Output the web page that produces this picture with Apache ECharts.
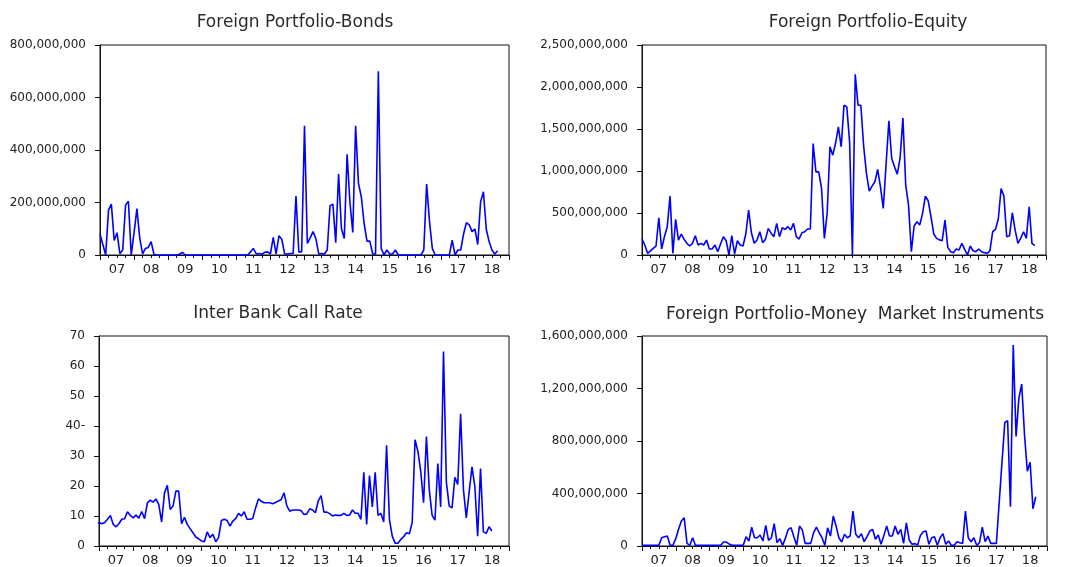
<!DOCTYPE html>
<html><head><meta charset="utf-8">
<script src="https://cdn.jsdelivr.net/npm/echarts@6/dist/echarts.min.js"></script>
<style>html,body{margin:0;padding:0;background:#fff}#c{width:1065px;height:567px}</style>
</head><body><div id="c"></div>
<script>
// ---- data (monthly observations) ----
const xLabels = ['07','08','09','10','11','12','13','14','15','16','17','18'];

// Foreign Portfolio-Bonds, millions, from 2007-01
const bonds = [
 80,40,0,171,194,55,85,5,19,190,
 205,0,85,177,63,4,25,29,51,2,
 0,0,0,0,0,0,0,0,3,10,
 0,0,0,0,0,0,0,0,0,0,
 0,0,0,0,0,0,0,0,0,0,
 0,0,0,12,25,4,6,3,10,12,
 4,67,4,73,60,4,4,6,6,225,
 12,12,492,44,65,89,63,4,6,4,
 19,188,194,47,308,101,63,384,200,86,
 492,273,222,120,53,53,4,4,700,25,
 0,19,4,4,19,0,0,0,0,0,
 0,0,0,0,19,270,130,25,0,0,
 0,0,0,0,57,0,19,19,80,123,
 115,89,99,40,203,241,98,51,19,4,
 16];

// Foreign Portfolio-Equity, millions, from 2007-01
const equity = [
 190,119,20,50,80,107,444,71,218,337,
 701,20,424,178,250,186,139,107,139,230,
 119,139,119,178,71,71,119,40,130,218,
 170,0,230,12,170,119,107,250,535,265,
 139,178,277,147,186,317,260,218,376,218,
 325,305,337,297,376,218,190,265,277,309,
 309,1327,990,990,792,198,495,1288,1189,1330,
 1525,1288,1783,1763,1347,0,2151,1783,1783,1300,
 971,761,820,872,1018,812,555,1080,1597,1149,
 1050,963,1157,1632,832,594,40,345,396,357,
 495,701,646,456,250,198,180,170,416,91,
 40,28,71,59,139,67,0,107,51,40,
 71,40,28,20,48,277,305,428,792,701,
 218,230,503,297,139,200,277,198,574,139,
 111];

// Inter Bank Call Rate, percent, from 2006-11
const callRate = [
 10.2,7.2,7.8,7.4,7.8,8.9,10.2,7.2,6.4,7.4,
 8.9,9.1,11.4,10.2,9.4,10.3,9.3,11.5,9.1,14.4,
 15.3,14.6,15.7,13.8,8,17.7,20.2,12.2,13.3,18.3,
 18.3,7.4,9.6,7.2,5.8,4.4,3,2.4,1.7,1.4,
 4.7,2.8,3.9,1.4,2.8,8.5,8.9,8.5,6.6,8.3,
 9.1,10.9,10,11.4,8.9,8.9,9.2,12.7,15.7,14.9,
 14.4,14.4,14.4,14.1,14.5,15,15.5,17.7,13.3,11.6,
 12,12,12,11.8,10.5,10.7,12.4,12,11.1,15,
 16.8,11.3,11.3,10.8,10,10.3,10.2,10.2,10.9,10.2,
 10.3,12,10.9,10.9,8.9,24.6,7.2,23.5,13,24.6,
 10.2,10.9,8,33.6,8.9,3.3,0.9,0.9,2.2,3.1,
 4.4,4.1,7.8,35.4,31.6,24.9,14.4,36.5,18.8,10.2,
 8.6,27.5,13,64.8,21.3,13.3,12.7,22.9,20.5,44.1,
 18.8,9.4,18,26.4,19.9,3.3,25.8,4.7,4.2,6.4,
 5];

// Foreign Portfolio-Money Market Instruments, millions, from 2007-01
const moneyMarket = [
 5,5,5,5,5,5,5,63,70,76,
 5,5,56,127,190,215,20,5,63,5,
 5,5,5,5,5,5,5,5,5,30,
 30,15,5,5,5,5,5,71,38,144,
 63,63,84,38,157,43,63,170,25,56,
 5,60,127,139,71,5,152,122,20,20,
 20,100,144,101,63,5,139,76,228,152,
 63,30,89,63,76,266,89,63,94,33,
 71,114,127,51,84,13,80,152,76,76,
 152,89,127,20,177,46,13,18,8,81,
 109,114,13,63,71,5,63,94,13,38,
 5,5,33,25,20,266,63,33,63,5,
 25,144,33,76,20,20,20,330,640,942,
 954,299,1532,835,1127,1233,850,570,638,284,
 375];

const titles = ['Foreign Portfolio-Bonds','Foreign Portfolio-Equity','Inter Bank Call Rate','Foreign Portfolio-Money  Market Instruments'];
const seriesData = [bonds, equity, callRate, moneyMarket];
const seriesStart = [2007, 2007, 2006 + 10/12, 2007];   // first observation (year fraction)
const yMax = [800, 2500, 70, 1600];
const yStep = [200, 500, 10, 400];
const yScale = [1e6, 1e6, 1, 1e6];

// ---- layout ----
const grids = [
  {left:100, top:45, width:409, height:210},
  {left:642, top:45, width:404, height:210},
  {left:99,  top:336, width:410, height:211},
  {left:642, top:336, width:405, height:211}
];
const titlePos = [[290,9],[863,9],[273,300],[850,301]];

const FONT = 'DejaVu Sans';
function withCommas(n){ return String(Math.round(n)).replace(/\B(?=(\d{3})+(?!\d))/g, ','); }

const option = {
  backgroundColor:'#fff',
  animation:false,
  title: titles.map((t,i)=>({text:t, left:titlePos[i][0], top:titlePos[i][1], textAlign:'center',
     textStyle:{fontFamily:FONT, fontSize:17, fontWeight:'normal', color:'#2a2a2a'}})),
  grid: grids.map(g=>Object.assign({show:true, borderColor:'#111', borderWidth:1, backgroundColor:'transparent'}, g)),
  xAxis: [], yAxis: [], series: []
};

for (let p=0;p<4;p++){
  // tick axis
  option.xAxis.push({type:'value', gridIndex:p, min:2007, max:2019, interval:1, position:'bottom',
    axisLine:{show:true, onZero:false, lineStyle:{color:'#111', width:1}},
    axisTick:{show:true, length:5, lineStyle:{color:'#111'}},
    minorTick:{show:true, splitNumber:4, length:3, lineStyle:{color:'#111'}},
    axisLabel:{show:false}, splitLine:{show:false}, minorSplitLine:{show:false}});
  // label axis (labels centred in each year)
  option.xAxis.push({type:'value', gridIndex:p, min:2007, max:2019, interval:0.5, position:'bottom',
    axisLine:{show:false}, axisTick:{show:false}, splitLine:{show:false},
    axisLabel:{show:true, margin:8, fontFamily:FONT, fontSize:13, color:'#222',
      formatter:(v)=>{ const k=v-2007.5; const r=Math.round(k); return Math.abs(k-r)<1e-6 ? (xLabels[r]||'') : ''; }}});
  const sc = yScale[p];
  option.yAxis.push({type:'value', gridIndex:p, min:0, max:yMax[p], interval:yStep[p],
    axisLine:{show:true, lineStyle:{color:'#111', width:1}},
    axisTick:{show:true, length:5, lineStyle:{color:'#111'}},
    splitLine:{show:false},
    axisLabel:{margin:14, fontFamily:FONT, fontSize:12, color:'#222',
      formatter:(v)=>{ const s = withCommas(v*sc); return (p===2 && v===40) ? s+'-' : s; }}});
  const d = seriesData[p], s0 = seriesStart[p];
  option.series.push({type:'line', xAxisIndex:2*p, yAxisIndex:p, symbol:'none', clip:false,
    lineStyle:{color:'#0000ff', width:1.6}, data:d.map((v,i)=>[s0 + i/12, v])});
}

const chart = echarts.init(document.getElementById('c'), null, {renderer:'canvas'});
chart.setOption(option);
</script></body></html>
